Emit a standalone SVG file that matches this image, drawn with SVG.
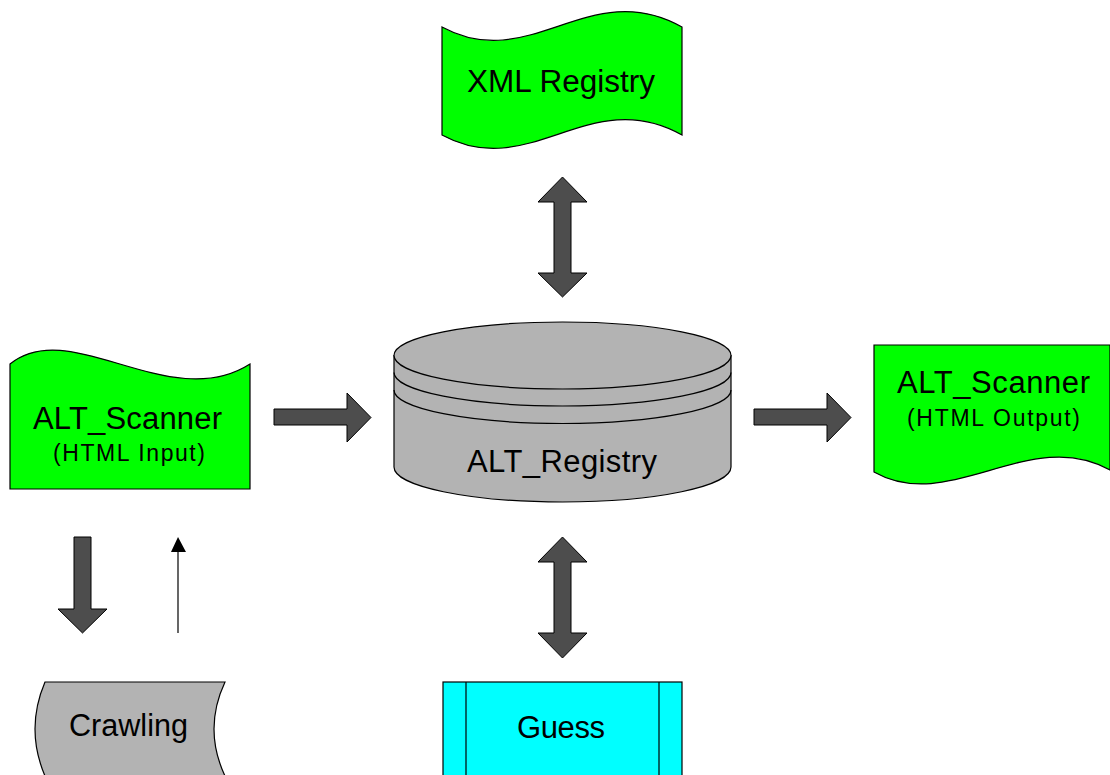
<svg xmlns="http://www.w3.org/2000/svg" width="1110" height="775" viewBox="0 0 1110 775">
<style>
.g{fill:#00ff00;stroke:#000;stroke-width:1.2}
.gr{fill:#b3b3b3;stroke:#000;stroke-width:1.2}
.cy{fill:#00ffff;stroke:#000;stroke-width:1.2}
.ln{fill:none;stroke:#000;stroke-width:1.2}
.ar{fill:#4d4d4d;stroke:#000;stroke-width:1}
text{font-family:"Liberation Sans",Arial,sans-serif;fill:#000;text-anchor:middle}
.t{font-size:31px}
.s{font-size:23px}
</style>
<rect width="1110" height="775" fill="#fff"/>
<g id="xml-registry">
<path class="g" d="M442,27 C530,75 590,-25 682,27 L682,135 C590,83 530,183 442,135 Z"/>
<text class="t" x="561" y="92" textLength="188" lengthAdjust="spacingAndGlyphs">XML Registry</text>
</g>
<g id="alt-scanner-input">
<path class="g" d="M10,364 C70,315 170,415 250,364 L250,489 L10,489 Z"/>
<text class="t" x="127.5" y="429" textLength="189" lengthAdjust="spacing">ALT_Scanner</text>
<text class="s" x="129" y="461" textLength="152" lengthAdjust="spacing">(HTML Input)</text>
</g>
<g id="alt-registry">
<path class="gr" d="M394,355.5 L394,467 A168.5,35 0 0 0 731,467 L731,355.5 Z"/>
<ellipse class="gr" cx="562.5" cy="355.5" rx="168.5" ry="33.5"/>
<path class="ln" d="M394,372.5 A168.5,33.5 0 0 0 731,372.5"/>
<path class="ln" d="M394,390 A168.5,33.5 0 0 0 731,390"/>
<text class="t" x="562" y="472" textLength="190" lengthAdjust="spacing">ALT_Registry</text>
</g>
<g id="alt-scanner-output">
<path class="g" d="M874,345 L1110,345 L1110,470 C1030,425 950,515 874,472 Z"/>
<text class="t" x="993.5" y="393" textLength="193" lengthAdjust="spacing">ALT_Scanner</text>
<text class="s" x="993.5" y="426" textLength="173" lengthAdjust="spacing">(HTML Output)</text>
</g>
<g id="crawling">
<path class="gr" d="M45,682 L225,682 Q203,729 225,776 L45,776 Q25,729 45,682 Z"/>
<text class="t" x="128.5" y="736" textLength="119" lengthAdjust="spacingAndGlyphs">Crawling</text>
</g>
<g id="guess">
<rect class="cy" x="443" y="682" width="239" height="100"/>
<line class="ln" x1="466" y1="682" x2="466" y2="780"/>
<line class="ln" x1="659" y1="682" x2="659" y2="780"/>
<text class="t" x="561" y="738" textLength="88" lengthAdjust="spacing">Guess</text>
</g>
<g id="connectors">
<path class="ar" d="M562.5,177 L587,202 L571,202 L571,273 L587,273 L562.5,297 L538,273 L554,273 L554,202 L538,202 Z"/>
<path class="ar" d="M562.5,537 L587,562 L571,562 L571,633 L587,633 L562.5,658 L538,633 L554,633 L554,562 L538,562 Z"/>
<path class="ar" d="M274,409 L347,409 L347,393 L371,417.5 L347,442 L347,425 L274,425 Z"/>
<path class="ar" d="M754,409 L827,409 L827,393 L851,417.5 L827,442 L827,425 L754,425 Z"/>
<path class="ar" d="M74,537 L91,537 L91,609 L107,609 L82.5,633 L58,609 L74,609 Z"/>
<line x1="178" y1="633" x2="178" y2="550" stroke="#000" stroke-width="1.2"/>
<polygon points="171,552 178,537 186,552" fill="#000"/>
</g>
</svg>
